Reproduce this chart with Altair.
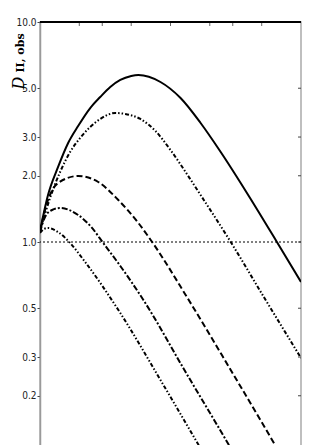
import altair as alt
import pandas as pd

# ---- data ----
x1 = [0.1, 0.1152, 0.1376, 0.1643, 0.196, 0.2425, 0.2894, 0.3455, 0.4124, 0.5, 0.5674, 0.8377, 1.194, 1.701, 2.425, 3.981, 6.537, 10.0]
y1 = [1.122, 1.635, 2.193, 2.818, 3.367, 4.064, 4.561, 5.065, 5.451, 5.683, 5.74, 5.337, 4.513, 3.475, 2.565, 1.619, 1.0, 0.658]

x2 = [0.1, 0.1194, 0.1426, 0.1701, 0.2031, 0.2425, 0.2894, 0.3775, 0.4508, 0.5878, 0.7666, 1.0, 1.351, 1.701, 2.894, 5.192, 10.0]
y2 = [1.122, 1.585, 2.081, 2.565, 2.970, 3.333, 3.624, 3.858, 3.818, 3.624, 3.196, 2.619, 2.016, 1.635, 1.0, 0.562, 0.297]

x3 = [0.1, 0.1152, 0.1376, 0.196, 0.2794, 0.3981, 0.5674, 0.7142, 1.351, 2.894, 6.199, 10.0]
y3 = [1.122, 1.552, 1.854, 1.995, 1.874, 1.552, 1.220, 1.011, 0.556, 0.262, 0.122, 0.0746]

x4 = [0.1, 0.1093, 0.1237, 0.1426, 0.196, 0.247, 0.3052, 0.4124, 0.6199, 1.305, 2.745, 4.92]
y4 = [1.110, 1.299, 1.398, 1.427, 1.327, 1.170, 0.9896, 0.778, 0.545, 0.2565, 0.122, 0.0672]

x5 = [0.1, 0.1073, 0.1152, 0.1376, 0.1701, 0.2219, 0.4124, 0.8377, 1.642, 2.894]
y5 = [1.099, 1.146, 1.158, 1.110, 0.9896, 0.811, 0.4755, 0.236, 0.1195, 0.0672]

y_ticks = [0.2, 0.3, 0.5, 1.0, 2.0, 3.0, 5.0, 10.0]
x_ticks = [0.2, 0.3, 0.5, 1.0, 2.0, 3.0, 5.0]
reference_level = [1.0]

W, H = 261, 440

xscale = alt.Scale(type="log", domain=[0.1, 10])
yscale = alt.Scale(type="log", domain=[0.1, 10])
yaxis = alt.Axis(values=y_ticks, format=".1f", title=None, grid=False,
                 domainColor="#9a9a9a", domainWidth=1.5, tickColor="#444",
                 tickSize=3, labelPadding=1, labelFontSize=10,
                 labelFont="Liberation Sans Narrow, DejaVu Sans Condensed, Liberation Sans",
                 labelColor="#222")

styles = [
    (x1, y1, None, 2.0),
    (x2, y2, [4, 2, 1.5, 2, 1.5, 2], 2.0),
    (x3, y3, [6, 3], 2.0),
    (x4, y4, [6, 2, 2, 2], 2.0),
    (x5, y5, [4, 2, 1.5, 2, 1.5, 2], 2.0),
]

layers = []
for xs, ys, dash, w in styles:
    df = pd.DataFrame({"x": xs, "y": ys})
    kw = dict(color="black", strokeWidth=w, clip=True, interpolate="monotone")
    if dash:
        kw["strokeDash"] = dash
    layers.append(
        alt.Chart(df).mark_line(**kw).encode(
            x=alt.X("x:Q", scale=xscale, axis=None),
            y=alt.Y("y:Q", scale=yscale, axis=yaxis),
        )
    )

ref = alt.Chart(pd.DataFrame({"y": reference_level})).mark_rule(
    color="black", strokeWidth=1, strokeDash=[2, 2]
).encode(y=alt.Y("y:Q", scale=yscale, axis=yaxis))

top_ticks = alt.Chart(pd.DataFrame({"x": x_ticks})).mark_rule(color="#666", strokeWidth=1).encode(
    x=alt.X("x:Q", scale=xscale, axis=None), y=alt.value(0), y2=alt.value(4)
)
right_ticks = alt.Chart(pd.DataFrame({"y": y_ticks[:-1]})).mark_rule(color="#444", strokeWidth=1).encode(
    y=alt.Y("y:Q", scale=yscale, axis=yaxis), x=alt.value(W - 3), x2=alt.value(W)
)
top_border = alt.Chart(pd.DataFrame({"a": [0]})).mark_rule(color="black", strokeWidth=2).encode(
    x=alt.value(0), x2=alt.value(W), y=alt.value(0)
)

title_d = alt.Chart(pd.DataFrame({"t": ["D"]})).mark_text(
    angle=270, font="DejaVu Serif", fontStyle="italic", fontSize=16,
    align="center", baseline="middle", color="black"
).encode(text="t:N", x=alt.value(-21), y=alt.value(61))
title_sub = alt.Chart(pd.DataFrame({"t": ["II, obs"]})).mark_text(
    angle=270, font="DejaVu Serif", fontSize=11, fontWeight="bold",
    align="center", baseline="middle", color="black"
).encode(text="t:N", x=alt.value(-19), y=alt.value(31))

chart = alt.layer(ref, *layers, top_ticks, right_ticks, top_border, title_d, title_sub).properties(
    width=W, height=H,
    autosize=alt.AutoSizeParams(type="none"),
    padding={"left": 32, "top": 14, "right": 5, "bottom": 5},
).configure_view(stroke="#aaaaaa", strokeWidth=1.5)

chart.save("out.html", embed_options={"renderer": "svg", "actions": False})
